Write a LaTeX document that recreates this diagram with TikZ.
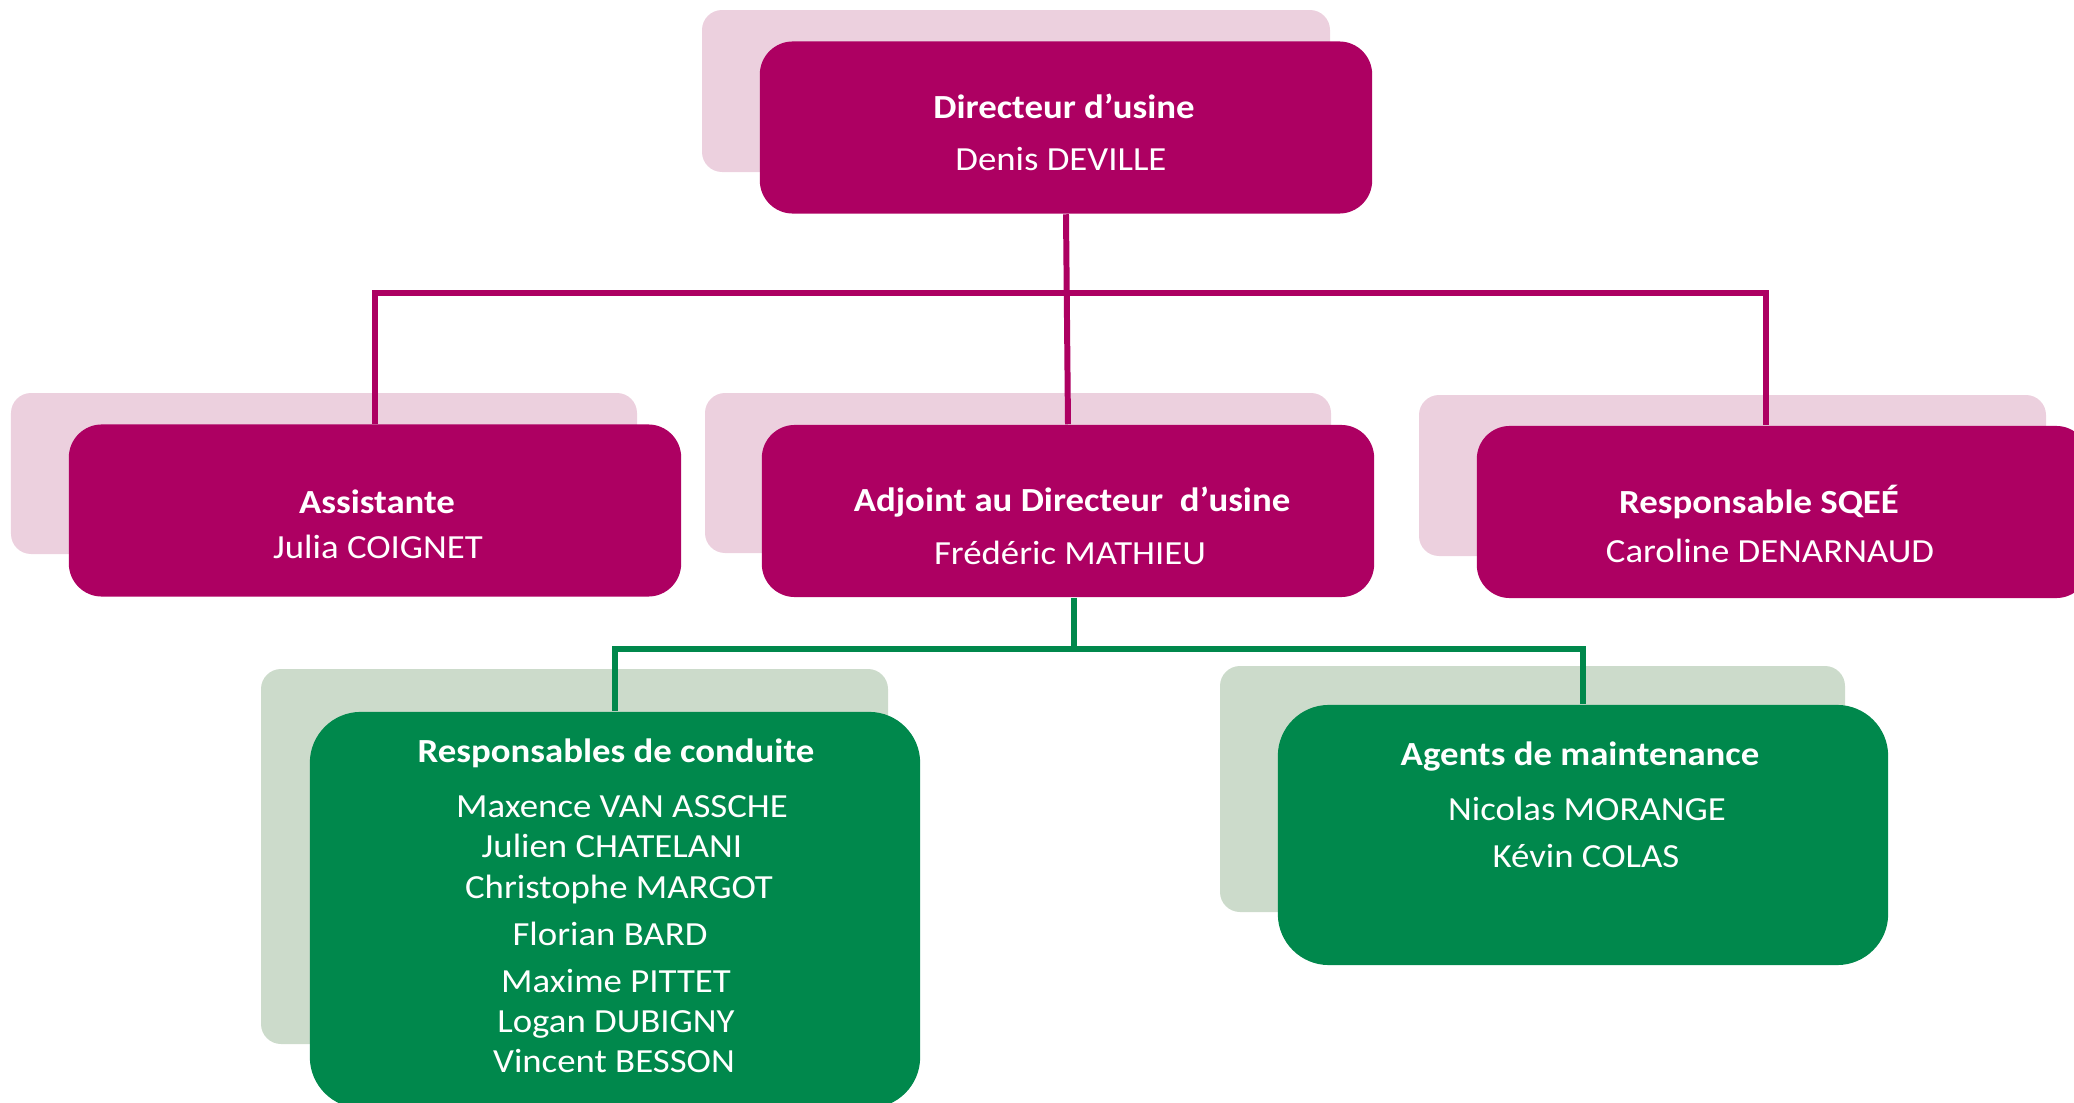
\documentclass[tikz,border=0pt]{standalone}
\usepackage{fontspec}
\setmainfont{Carlito}[FakeStretch=1.09]
\usetikzlibrary{positioning}
\definecolor{orgmag}{RGB}{173,0,98}
\definecolor{orgpink}{RGB}{236,208,222}
\definecolor{orggreen}{RGB}{0,136,76}
\definecolor{orgsage}{RGB}{204,219,203}

\begin{document}
\begin{tikzpicture}
  [x=0.01cm,y=-0.01cm,
  magbox/.style={rectangle,rounded corners=0.33cm,fill=orgmag,minimum width=6.12cm,minimum height=1.72cm,inner sep=0pt},
  greenbox/.style={rectangle,rounded corners=0.51cm,fill=orggreen,minimum width=6.1cm,inner sep=0pt},
  pinkshade/.style={fill=orgpink,rounded corners=0.2cm},
  sageshade/.style={fill=orgsage,rounded corners=0.2cm},
  roletext/.style={anchor=base,text=white,inner sep=0pt,font=\fontsize{9.6}{11}\selectfont\bfseries},
  persontext/.style={anchor=base,text=white,inner sep=0pt,font=\fontsize{9.6}{11}\selectfont},
  magline/.style={orgmag,line width=1.7pt},
  greenline/.style={orggreen,line width=1.7pt}]
  \useasboundingbox (0,0) rectangle (2074,1103);
  \clip (0,0) rectangle (2074,1103);

  % shadows
  \fill[pinkshade] (702,10) rectangle (1330,172);
  \fill[pinkshade] (11,393) rectangle (637,554);
  \fill[pinkshade] (705,393) rectangle (1331,553);
  \fill[pinkshade] (1419,395) rectangle (2046,556);
  \fill[sageshade] (261,669) rectangle (888,1044);
  \fill[sageshade] (1220,666) rectangle (1845,912);

  % boxes
  \node[magbox] (11) at (1066,127.5) {};
  \node[magbox] (21) at (375,510.5) {};
  \node[magbox] (31) at (1068,511) {};
  \node[magbox] (41) at (1783,512) {};
  \node[greenbox,minimum height=3.96cm] (51) at (615,910) {};
  \node[greenbox,minimum height=2.6cm] (61) at (1583,835) {};

  \node[roletext] (12) at (1064,118) {Directeur d’usine};
  \node[persontext] (13) at (1061,170) {Denis DEVILLE};

  \node[roletext] (22) at (377,513) {Assistante};
  \node[persontext] (23) at (378,558) {Julia COIGNET};

  \node[roletext] (32) at (1072,511) {Adjoint au Directeur~ d’usine};
  \node[persontext] (33) at (1070,564) {Frédéric MATHIEU};

  \node[roletext] (42) at (1759,513) {Responsable SQEÉ};
  \node[persontext] (43) at (1770,562) {Caroline DENARNAUD};

  \node[roletext] (52) at (616,762) {Responsables de conduite};
  \node[persontext] (53) at (622,817) {Maxence VAN ASSCHE};
  \node[persontext] (54) at (612,857) {Julien CHATELANI};
  \node[persontext] (55) at (619,898) {Christophe MARGOT};
  \node[persontext] (56) at (610,945) {Florian BARD};
  \node[persontext] (57) at (616,992) {Maxime PITTET};
  \node[persontext] (58) at (616,1032) {Logan DUBIGNY};
  \node[persontext] (59) at (614,1072) {Vincent BESSON};

  \node[roletext] (62) at (1580,765) {Agents de maintenance};
  \node[persontext] (63) at (1587,820) {Nicolas MORANGE};
  \node[persontext] (64) at (1586,867) {Kévin COLAS};

  % links
  \coordinate (b) at (1066,293);
  \draw[magline] (11.south) -- (31.north);
  \draw[magline] (21.north) |- (b) -| ([xshift=-0.17cm]41.north);

  \coordinate (g) at (1074,649);
  \draw[greenline] (g |- 31.south) -- (g);
  \draw[greenline] (51.north) |- (g) -| (61.north);
\end{tikzpicture}
\end{document}
